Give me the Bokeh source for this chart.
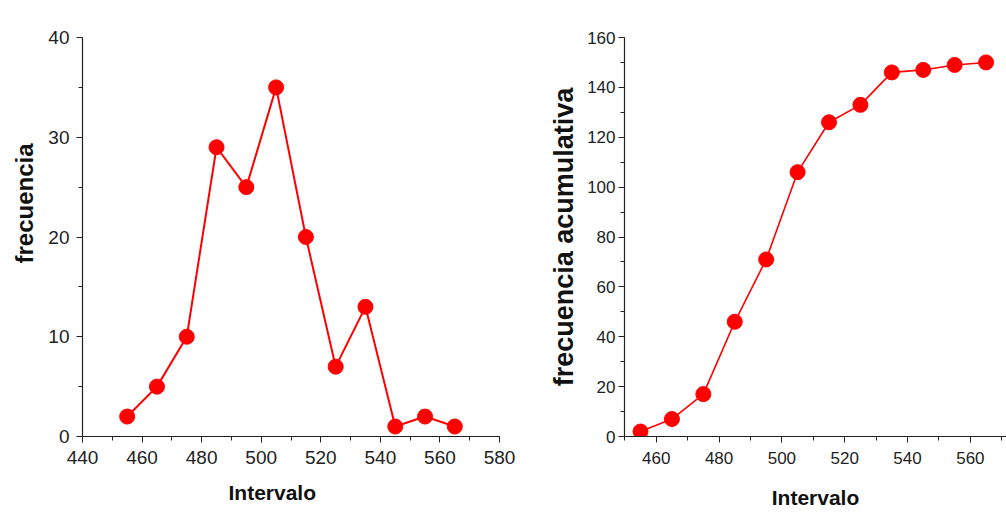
from bokeh.plotting import figure
from bokeh.layouts import row
from bokeh.models import Range1d, FixedTicker, Title
from bokeh.embed import file_html
from bokeh.resources import INLINE

intervalo = [455, 465, 475, 485, 495, 505, 515, 525, 535, 545, 555, 565]
frecuencia = [2, 5, 10, 29, 25, 35, 20, 7, 13, 1, 2, 1]
frec_acum = [2, 7, 17, 46, 71, 106, 126, 133, 146, 147, 149, 150]

left_xticks = [440, 460, 480, 500, 520, 540, 560, 580]
left_yticks = [0, 10, 20, 30, 40]
right_xticks = [460, 480, 500, 520, 540, 560]
right_yticks = [0, 20, 40, 60, 80, 100, 120, 140, 160]

RED = "#ff0000"
FONT = "Liberation Sans"


def style(p, tick_size, xstand, ystand, xlab_stand, ylab_stand, label_size):
    p.outline_line_color = None
    p.grid.grid_line_color = None
    p.background_fill_color = "white"
    p.border_fill_color = "white"
    for ax in (p.xaxis[0], p.yaxis[0]):
        ax.axis_line_color = "#222222"
        ax.axis_line_width = 1.2
        ax.major_tick_line_color = "#222222"
        ax.minor_tick_line_color = "#222222"
        ax.major_tick_out = 6
        ax.major_tick_in = 0
        ax.minor_tick_out = 4
        ax.minor_tick_in = 0
        ax.major_label_text_font = FONT
        ax.major_label_text_font_size = tick_size
        ax.major_label_text_color = "#222222"
        ax.axis_label_text_font = FONT
        ax.axis_label_text_font_style = "bold"
        ax.axis_label_text_font_size = label_size
        ax.axis_label_text_color = "#111111"
    p.xaxis[0].major_label_standoff = xstand
    p.yaxis[0].major_label_standoff = ystand
    p.xaxis[0].axis_label_standoff = xlab_stand
    p.yaxis[0].axis_label_standoff = ylab_stand


def make_title(text, size, offset, standoff):
    kw = dict(text=text, align="left", offset=offset,
              text_font=FONT, text_font_style="bold", text_font_size=size,
              text_color="#111111")
    try:
        return Title(standoff=standoff, **kw)
    except Exception:
        return Title(**kw)


p1 = figure(width=520, height=516, output_backend="svg", toolbar_location=None,
            x_range=Range1d(440, 580), y_range=Range1d(0, 40),
            min_border_left=81, min_border_right=21, min_border_top=37, min_border_bottom=80)
p1.xaxis.ticker = FixedTicker(ticks=left_xticks, minor_ticks=list(range(440, 581, 10)))
p1.yaxis.ticker = FixedTicker(ticks=left_yticks, minor_ticks=list(range(0, 41, 5)))
style(p1, "19px", 8, 7, 18, 14, "21px")
p1.line(intervalo, frecuencia, line_color=RED, line_width=2)
p1.scatter(intervalo, frecuencia, size=15, fill_color=RED, line_color=RED)
p1.add_layout(make_title("frecuencia", "24px", 173, 16), "left")
p1.add_layout(make_title("Intervalo", "21px", 146, 24), "below")

p2 = figure(width=486, height=516, output_backend="svg", toolbar_location=None,
            x_range=Range1d(449.9, 571.5), y_range=Range1d(0, 160),
            min_border_left=104, min_border_right=0, min_border_top=21, min_border_bottom=74)
p2.xaxis.ticker = FixedTicker(ticks=right_xticks, minor_ticks=list(range(450, 571, 10)))
p2.yaxis.ticker = FixedTicker(ticks=right_yticks, minor_ticks=list(range(0, 161, 10)))
p2.xaxis.axis_label = "Intervalo"
p2.yaxis.axis_label = "frecuencia acumulativa"
style(p2, "17px", 9, 3, 19, 5, "21px")
p2.yaxis[0].axis_label_text_font_size = "27px"
p2.line(intervalo, frec_acum, line_color=RED, line_width=1.6)
p2.scatter(intervalo, frec_acum, size=15, fill_color=RED, line_color=RED)

layout = row(p1, p2)
open("out.html", "w").write(file_html(layout, INLINE))
